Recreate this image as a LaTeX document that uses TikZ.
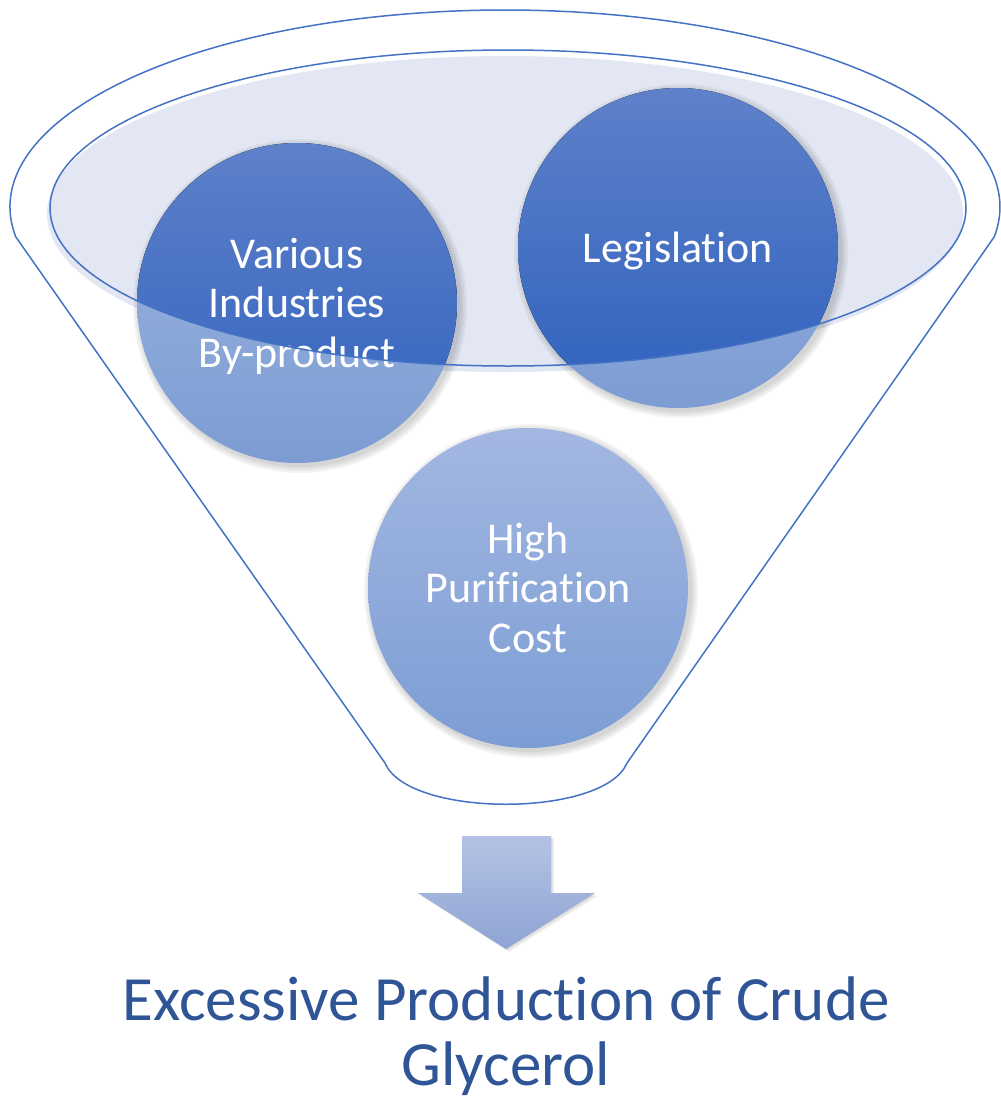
\documentclass[tikz,border=0pt]{standalone}
\usepackage{fontspec}
\setmainfont{Carlito}[Ligatures={NoCommon,NoContextual}]
\definecolor{outl}{RGB}{68,114,196}
\definecolor{rimfill}{RGB}{226,231,243}
\definecolor{darktop}{RGB}{94,129,201}
\definecolor{darkbot}{RGB}{47,97,190}
\definecolor{lighttop}{RGB}{160,183,225}
\definecolor{lightbot}{RGB}{124,156,211}
\definecolor{hightop}{RGB}{163,183,225}
\definecolor{highbot}{RGB}{124,157,212}
\definecolor{arrtop}{RGB}{180,195,228}
\definecolor{arrbot}{RGB}{143,164,212}
\definecolor{titleblue}{RGB}{47,85,151}
\tikzset{
  outline/.style={draw=outl, line width=1.5pt},
  bubble/.style={circle, minimum size=320pt, inner sep=0pt},
  bubbletext/.style={text=white, align=center, inner sep=0pt,
     font=\fontsize{44pt}{49.5pt}\selectfont},
  shadowring/.style={fill=black, fill opacity=0.045},
}
\begin{document}
\begin{tikzpicture}[x=1pt,y=1pt,yscale=-1]
\useasboundingbox (0,0) rectangle (1001,1101);
% outer funnel
\draw[outline] (505,207) ++(171.3:495 and 197)
   arc[start angle=171.3, end angle=368.7, x radius=495, y radius=197]
   -- (627,763) .. controls (604,818) and (408,818) .. (385,763) -- cycle;
% rim fill (slightly offset)
\fill[rimfill] (505,214) ellipse[x radius=458, y radius=158];
% shadows
\foreach \cx/\cy in {297/303, 678/248, 528/588}{
  \foreach \r in {161,163,165,167}{
    \fill[shadowring] (\cx+3,\cy+3) circle[radius=\r];
  }
}
% bubbles
\node[bubble, top color=lighttop, bottom color=lightbot] (c1) at (297,303) {};
\node[bubble, top color=lighttop, bottom color=lightbot] (c2) at (678,248) {};
\node[bubble, top color=hightop, bottom color=highbot] (c3) at (528,588) {};
\begin{scope}
  \clip (508,208) ellipse[x radius=458, y radius=158];
  \fill[top color=darktop, bottom color=darkbot] (c1.center) circle[radius=160];
  \fill[top color=darktop, bottom color=darkbot] (c2.center) circle[radius=160];
\end{scope}
% texts (base anchor = baseline of last line)
\node[bubbletext, anchor=base] (t1) at (297,367) {Various\\Industries\\By-product};
\node[bubbletext, anchor=base] (t2) at (678,262) {Legislation};
\node[bubbletext, anchor=base] (t3) at (528,652) {High\\Purification\\Cost};
% rim outline on top
\draw[outline] (508,208) ellipse[x radius=458, y radius=158];
% arrow
\foreach \k in {1,2,3}{
  \fill[black, opacity=0.05] (462+\k,836+\k) -- (551+\k,836+\k) -- (551+\k,893+\k) -- (595+\k,893+\k)
     -- (506+\k,949+\k) -- (418+\k,893+\k) -- (462+\k,893+\k) -- cycle;
}
\shade[top color=arrtop, bottom color=arrbot] (462,836) -- (551,836) -- (551,893) -- (595,893)
   -- (506,949) -- (418,893) -- (462,893) -- cycle;
% result text
\node[text=titleblue, align=center, inner sep=0pt, anchor=base,
      font=\fontsize{63pt}{65pt}\selectfont] (res) at (506,1085)
      {Excessive Production of Crude\\Glycerol};
\end{tikzpicture}
\end{document}
